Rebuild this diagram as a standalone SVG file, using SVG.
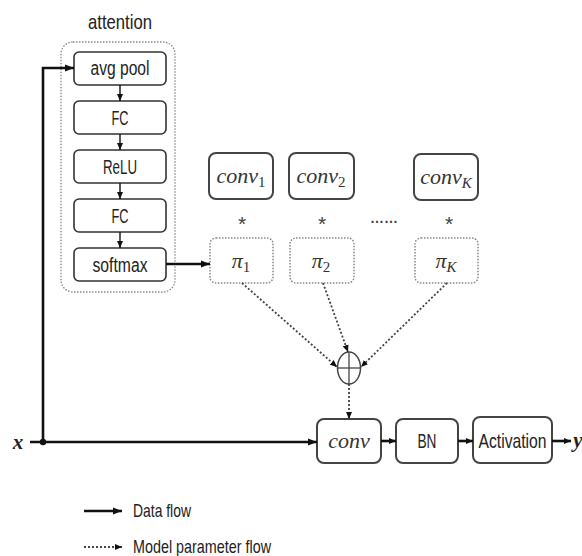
<svg xmlns="http://www.w3.org/2000/svg" width="582" height="556" viewBox="0 0 582 556">
<style>
.t{font-family:"Liberation Sans",Arial,sans-serif;font-size:20px;fill:#222;text-anchor:middle}
.m{font-family:"Liberation Serif","Times New Roman",serif;font-style:italic;font-size:22px;fill:#333;text-anchor:middle}
.box{fill:#fff;stroke:#333;stroke-width:1.6}
.cbox{fill:#fff;stroke:#444;stroke-width:2}
.pbox{fill:#fff;stroke:#888;stroke-width:1.5;stroke-dasharray:1.5 1.5}
.cont{fill:none;stroke:#888;stroke-width:1.3;stroke-dasharray:1.5 1.5}
.d{fill:none;stroke:#111;stroke-width:2.6}
.ds{fill:none;stroke:#111;stroke-width:1.4}
.p{fill:none;stroke:#444;stroke-width:1.8;stroke-dasharray:2 2}
</style>
<defs>
<marker id="a" markerUnits="userSpaceOnUse" markerWidth="10" markerHeight="8" refX="9" refY="4" orient="auto"><path d="M0,0.5 L9,4 L0,7.5 z" fill="#111"/></marker>
<marker id="as" markerUnits="userSpaceOnUse" markerWidth="8" markerHeight="7" refX="7" refY="3.5" orient="auto"><path d="M0,0.5 L7,3.5 L0,6.5 z" fill="#111"/></marker>
</defs>

<g id="attention">
<text class="t" x="120" y="29" style="font-size:21px" textLength="64" lengthAdjust="spacingAndGlyphs">attention</text>
<rect class="cont" x="61" y="42" width="114" height="250" rx="12"/>
</g>
<g id="avgpool"><rect class="box" x="74" y="52" width="92" height="33" rx="5"/><text class="t" x="120" y="75" textLength="59" lengthAdjust="spacingAndGlyphs">avg pool</text></g>
<g id="fc1"><rect class="box" x="74" y="101" width="92" height="33" rx="5"/><text class="t" x="120" y="124.5" textLength="17" lengthAdjust="spacingAndGlyphs">FC</text></g>
<g id="relu"><rect class="box" x="74" y="150" width="92" height="33" rx="5"/><text class="t" x="120" y="173.5" textLength="34" lengthAdjust="spacingAndGlyphs">ReLU</text></g>
<g id="fc2"><rect class="box" x="74" y="199" width="92" height="33" rx="5"/><text class="t" x="120" y="222.5" textLength="17" lengthAdjust="spacingAndGlyphs">FC</text></g>
<g id="softmax"><rect class="box" x="74" y="248" width="92" height="33" rx="5"/><text class="t" x="120" y="271.5" textLength="55" lengthAdjust="spacingAndGlyphs">softmax</text></g>

<g id="conv1"><rect class="cbox" x="209" y="153" width="64" height="46" rx="7"/><text class="m" x="241" y="183">conv<tspan font-size="15" dy="4" font-style="normal">1</tspan></text></g>
<g id="conv2"><rect class="cbox" x="289" y="153" width="65" height="46" rx="7"/><text class="m" x="321" y="183">conv<tspan font-size="15" dy="4" font-style="normal">2</tspan></text></g>
<g id="convK"><rect class="cbox" x="414" y="154" width="64" height="46" rx="7"/><text class="m" x="446" y="184">conv<tspan font-size="15" dy="4">K</tspan></text></g>

<g id="stars">
<text class="t" x="242" y="231" style="font-size:21px;fill:#444">*</text>
<text class="t" x="322" y="231" style="font-size:21px;fill:#444">*</text>
<text class="t" x="384" y="223" style="font-size:14px;font-weight:bold;fill:#444" textLength="28" lengthAdjust="spacingAndGlyphs">……</text>
<text class="t" x="449" y="231" style="font-size:21px;fill:#444">*</text>
</g>

<g id="pi1"><rect class="pbox" x="210" y="238" width="63" height="45" rx="6"/><text class="m" x="241" y="268">π<tspan font-size="15" dy="4" font-style="normal">1</tspan></text></g>
<g id="pi2"><rect class="pbox" x="290" y="238" width="64" height="45" rx="6"/><text class="m" x="321" y="268">π<tspan font-size="15" dy="4" font-style="normal">2</tspan></text></g>
<g id="piK"><rect class="pbox" x="415" y="238" width="63" height="45" rx="6"/><text class="m" x="446" y="268">π<tspan font-size="15" dy="4">K</tspan></text></g>

<g id="sum">
<ellipse cx="349" cy="368" rx="11.5" ry="16" fill="#fff" stroke="#444" stroke-width="1.5"/>
<line x1="337.5" y1="368" x2="360.5" y2="368" stroke="#444" stroke-width="1.3"/>
<line x1="349" y1="352" x2="349" y2="384" stroke="#444" stroke-width="1.3"/>
</g>

<g id="conv"><rect class="cbox" x="317" y="419" width="64" height="44" rx="7"/><text class="m" x="349" y="448">conv</text></g>
<g id="bn"><rect class="cbox" x="396" y="419" width="62" height="44" rx="7"/><text class="t" x="427" y="448" style="font-size:21px" textLength="19" lengthAdjust="spacingAndGlyphs">BN</text></g>
<g id="activation"><rect class="cbox" x="473" y="417" width="79" height="46" rx="7"/><text class="t" x="512.5" y="447.5" style="font-size:21px" textLength="68" lengthAdjust="spacingAndGlyphs">Activation</text></g>

<g id="labels">
<text class="m" x="18" y="449" style="font-size:21px;font-weight:bold;fill:#222">x</text>
<text class="m" x="578" y="447" style="font-size:21px;font-weight:bold;fill:#222">y</text>
</g>

<g id="connectors">
<path class="d" d="M43,442 V68 H74" marker-end="url(#a)"/>
<circle cx="43" cy="442" r="3.2" fill="#111"/>
<path class="d" d="M30,442 H317" marker-end="url(#a)"/>
<path class="d" d="M166,264 H210" marker-end="url(#a)"/>
<path class="ds" d="M120,85 V101" marker-end="url(#as)"/>
<path class="ds" d="M120,134 V150" marker-end="url(#as)"/>
<path class="ds" d="M120,183 V199" marker-end="url(#as)"/>
<path class="ds" d="M120,232 V248" marker-end="url(#as)"/>
<path class="d" d="M381,441 H396" marker-end="url(#as)"/>
<path class="d" d="M458,441 H473" marker-end="url(#as)"/>
<path class="d" d="M552,441 H571" marker-end="url(#as)"/>
<path class="p" d="M242,283 L337,367" marker-end="url(#as)"/>
<path class="p" d="M323,283 L348,352" marker-end="url(#as)"/>
<path class="p" d="M447,283 L361,367" marker-end="url(#as)"/>
<path class="p" d="M349,384 V419" marker-end="url(#as)"/>
</g>

<g id="legend">
<path class="d" d="M84,511 H122" marker-end="url(#a)"/>
<text class="t" x="133" y="516.5" style="font-size:19px;text-anchor:start" textLength="58" lengthAdjust="spacingAndGlyphs">Data flow</text>
<path class="p" d="M84,547 H122" marker-end="url(#as)"/>
<text class="t" x="133" y="553" style="font-size:19px;text-anchor:start" textLength="138" lengthAdjust="spacingAndGlyphs">Model parameter flow</text>
</g>
</svg>
